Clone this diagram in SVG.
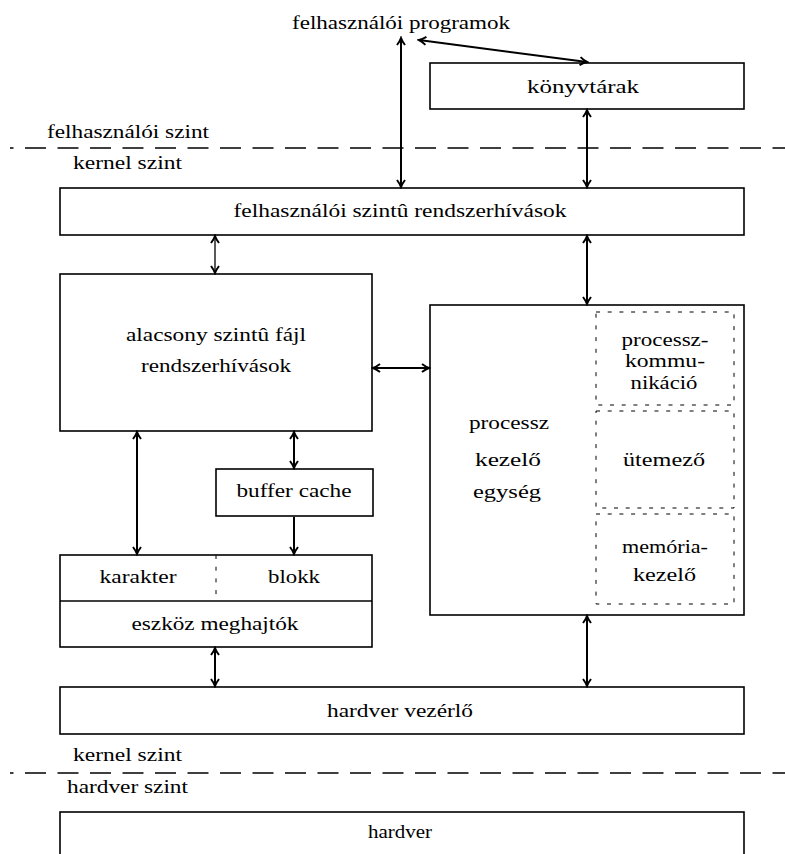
<svg xmlns="http://www.w3.org/2000/svg" width="785" height="854" viewBox="0 0 785 854">
<style>
text{font-family:"Liberation Serif","Times New Roman",serif;font-size:18px;fill:#000}
.m{text-anchor:middle}
.box{fill:#fff;stroke:#000;stroke-width:1.6}
.inner{fill:none;stroke:#000;stroke-width:1;stroke-dasharray:4 7.7}
.lvl{fill:none;stroke:#000;stroke-width:1.3;stroke-dasharray:21 11.5;stroke-dashoffset:17.5}
.c{fill:none;stroke:#000;stroke-width:2}
.thin{stroke-width:1.3}
.a2{marker-start:url(#ah);marker-end:url(#ah)}
.a1{marker-end:url(#ah)}
</style>
<defs>
<marker id="ah" markerUnits="userSpaceOnUse" viewBox="-10 -6 12 12" refX="0" refY="0" markerWidth="12" markerHeight="12" orient="auto-start-reverse">
<path d="M-7,-4 Q-3,-1 0,0 Q-3,1 -7,4" fill="none" stroke="#000" stroke-width="2"/>
</marker>
</defs>
<rect width="785" height="854" fill="#fff"/>

<g id="levels">
<line class="lvl" x1="10" y1="148" x2="785" y2="148"/>
<line class="lvl" x1="10" y1="773" x2="785" y2="773"/>
<text x="47" y="138" textLength="162" lengthAdjust="spacingAndGlyphs">felhasználói szint</text>
<text x="73" y="169" textLength="109" lengthAdjust="spacingAndGlyphs">kernel szint</text>
<text x="73" y="761" textLength="109" lengthAdjust="spacingAndGlyphs">kernel szint</text>
<text x="67" y="793" textLength="121" lengthAdjust="spacingAndGlyphs">hardver szint</text>
</g>

<g id="programs">
<text class="m" x="401" y="29" textLength="218" lengthAdjust="spacingAndGlyphs">felhasználói programok</text>
</g>

<g id="libraries">
<rect class="box" x="430" y="63" width="314" height="46"/>
<text class="m" x="583" y="93" textLength="112" lengthAdjust="spacingAndGlyphs">könyvtárak</text>
</g>

<g id="syscalls">
<rect class="box" x="60" y="188" width="684" height="47"/>
<text class="m" x="400" y="217" textLength="333" lengthAdjust="spacingAndGlyphs">felhasználói szintû rendszerhívások</text>
</g>

<g id="filesys">
<rect class="box" x="60" y="274" width="312" height="157"/>
<text class="m" x="216" y="341" textLength="180" lengthAdjust="spacingAndGlyphs">alacsony szintû fájl</text>
<text class="m" x="216" y="372" textLength="150" lengthAdjust="spacingAndGlyphs">rendszerhívások</text>
</g>

<g id="process">
<rect class="box" x="430" y="305" width="314" height="310"/>
<text class="m" x="509" y="429" textLength="80" lengthAdjust="spacingAndGlyphs">processz</text>
<text class="m" x="508" y="466" textLength="66" lengthAdjust="spacingAndGlyphs">kezelő</text>
<text class="m" x="507" y="498" textLength="68" lengthAdjust="spacingAndGlyphs">egység</text>
</g>

<g id="ipc">
<rect class="inner" x="596" y="312" width="138" height="93"/>
<text class="m" x="665" y="346" textLength="87" lengthAdjust="spacingAndGlyphs">processz-</text>
<text class="m" x="665" y="367" textLength="80" lengthAdjust="spacingAndGlyphs">kommu-</text>
<text class="m" x="664" y="389" textLength="67" lengthAdjust="spacingAndGlyphs">nikáció</text>
</g>

<g id="scheduler">
<rect class="inner" x="596" y="411" width="138" height="97"/>
<text class="m" x="664" y="466" textLength="82" lengthAdjust="spacingAndGlyphs">ütemező</text>
</g>

<g id="memory">
<rect class="inner" x="596" y="514" width="138" height="90"/>
<text class="m" x="665" y="553" textLength="86" lengthAdjust="spacingAndGlyphs">memória-</text>
<text class="m" x="664.5" y="581" textLength="63" lengthAdjust="spacingAndGlyphs">kezelő</text>
</g>

<g id="buffer">
<rect class="box" x="216" y="469" width="157" height="47"/>
<text class="m" x="294" y="497" textLength="115" lengthAdjust="spacingAndGlyphs">buffer cache</text>
</g>

<g id="drivers">
<rect class="box" x="60" y="555" width="312" height="92"/>
<line x1="60" y1="601" x2="372" y2="601" stroke="#000" stroke-width="1.3"/>
<line class="inner" x1="216" y1="555" x2="216" y2="601"/>
<text class="m" x="138" y="583" textLength="77" lengthAdjust="spacingAndGlyphs">karakter</text>
<text class="m" x="294" y="583" textLength="52" lengthAdjust="spacingAndGlyphs">blokk</text>
<text class="m" x="215" y="630" textLength="167" lengthAdjust="spacingAndGlyphs">eszköz meghajtók</text>
</g>

<g id="hwcontrol">
<rect class="box" x="60" y="687" width="684" height="47"/>
<text class="m" x="400" y="717" textLength="146" lengthAdjust="spacingAndGlyphs">hardver vezérlő</text>
</g>

<g id="hardware">
<rect class="box" x="60" y="812" width="684" height="60"/>
<text class="m" x="400" y="838" textLength="64" lengthAdjust="spacingAndGlyphs">hardver</text>
</g>

<g id="connectors">
<line class="c a2" x1="401" y1="38" x2="401" y2="187"/>
<line class="c a2" x1="419" y1="40" x2="587" y2="62"/>
<line class="c a2" x1="587" y1="110" x2="587" y2="187"/>
<line class="c thin a2" x1="215" y1="236" x2="215" y2="273"/>
<line class="c a2" x1="587" y1="236" x2="587" y2="304"/>
<line class="c a2" x1="373" y1="368" x2="429" y2="368"/>
<line class="c a2" x1="137" y1="432" x2="137" y2="554"/>
<line class="c a2" x1="294" y1="432" x2="294" y2="468"/>
<line class="c a1" x1="294" y1="517" x2="294" y2="554"/>
<line class="c a2" x1="215" y1="648" x2="215" y2="686"/>
<line class="c a2" x1="587" y1="616" x2="587" y2="686"/>
</g>
</svg>
